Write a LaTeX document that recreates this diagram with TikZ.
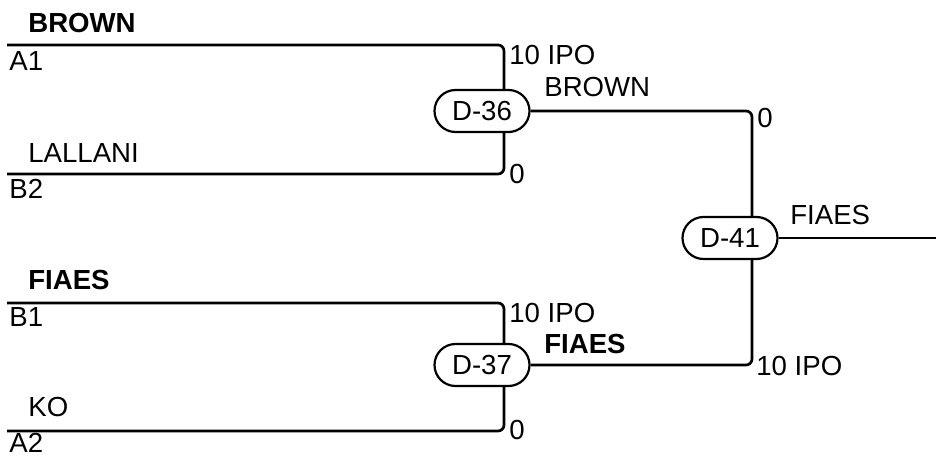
\documentclass[tikz,border=0pt]{standalone}
\usepackage{fontspec}
\setmainfont{Liberation Sans}
\usetikzlibrary{shapes.misc}
\begin{document}
\begin{tikzpicture}[x=1pt,y=-1pt,line width=2.7pt,
  txt/.style={anchor=base west,inner sep=0pt,font=\fontsize{27.6}{32}\selectfont},
  team/.style={txt,font=\fontsize{27.6}{32}\selectfont\bfseries},
  matchbox/.style={draw,fill=white,rounded rectangle,minimum width=95pt,minimum height=42pt,
    inner sep=0pt,line width=2.2pt,font=\fontsize{27.6}{32}\selectfont},
  bracket/.style={rounded corners=6pt}]
\useasboundingbox (0,0) rectangle (936,457);
% coordinates
\coordinate (a1) at (7,45);
\coordinate (t36) at (504,45);
\coordinate (b36) at (504,174);
\coordinate (b2) at (7,174);
\coordinate (b1) at (7,303);
\coordinate (t37) at (504,303);
\coordinate (b37) at (504,431);
\coordinate (a2) at (7,431);
\coordinate (t41) at (752,111);
\coordinate (b41) at (752,365);
\coordinate (out) at (936,238);
% brackets
\draw[bracket] (a1) -- (t36) -- (b36) -- (b2);
\draw[bracket] (b1) -- (t37) -- (b37) -- (a2);
% nodes
\node[matchbox] (m36) at (482,111) {D-36};
\node[matchbox] (m37) at (482,365) {D-37};
\draw[bracket] (m36.east) -- (t41) -- (b41) -- (m37.east);
\node[matchbox] (m41) at (730,238) {D-41};
\draw (m41.east) -- (out);
% labels
\node[team] (l1) at (27,33) {BROWN};
\node[txt] (l2) at (8,71) {A1};
\node[txt] (l3) at (27,163) {LALLANI};
\node[txt] (l4) at (8,198) {B2};
\node[team] (l5) at (27,289) {FIAES};
\node[txt] (l6) at (8,326) {B1};
\node[txt] (l7) at (27,416) {KO};
\node[txt] (l8) at (8,452.5) {A2};
\node[txt] (s1) at (508,65) {10 IPO};
\node[txt] (s2) at (543,97) {BROWN};
\node[txt] (s3) at (508,183) {0};
\node[txt] (s4) at (508,322) {10 IPO};
\node[team] (s5) at (543,353) {FIAES};
\node[txt] (s6) at (508,439) {0};
\node[txt] (s7) at (756,128) {0};
\node[txt] (s8) at (789,224) {FIAES};
\node[txt] (s9) at (755,375) {10 IPO};
\end{tikzpicture}
\end{document}
